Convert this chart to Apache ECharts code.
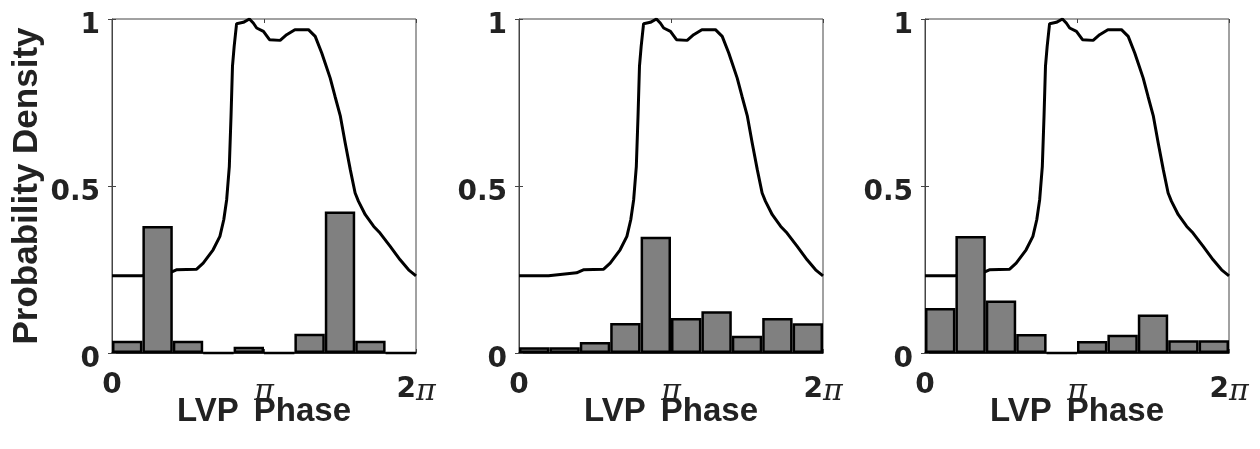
<!DOCTYPE html>
<html>
<head>
<meta charset="utf-8">
<script src="https://cdn.jsdelivr.net/npm/echarts@6/dist/echarts.min.js"></script>
<style>
html,body{margin:0;padding:0;background:#fff;}
#chart{width:1260px;height:449px;}
</style>
</head>
<body>
<div id="chart"></div>
<script>
// Histogram bins (10 equal bins over 0..2π)
var binLabels = ['1','2','3','4','5','6','7','8','9','10'];
// Probability per bin, one array per panel
var panel1Bars = [0.037, 0.380, 0.037, 0, 0.019, 0, 0.058, 0.424, 0.037, 0];
var panel2Bars = [0.017, 0.017, 0.033, 0.090, 0.348, 0.105, 0.125, 0.052, 0.105, 0.089];
var panel3Bars = [0.135, 0.350, 0.157, 0.057, 0, 0.036, 0.055, 0.115, 0.038, 0.038];
// Reference density curve (same in all panels): phase in radians, density
var phaseX = [0, 0.61, 1.19, 1.33, 1.75, 1.885, 2.09, 2.23, 2.31, 2.37, 2.425, 2.46, 2.49, 2.525, 2.575,
  2.715, 2.84, 2.92, 2.99, 3.13, 3.255, 3.475, 3.61, 3.78, 4.06, 4.2, 4.335, 4.405, 4.51, 4.61, 4.72,
  4.82, 4.925, 5.025, 5.095, 5.235, 5.41, 5.54, 5.75, 5.955, 6.13, 6.2832];
var density = [0.231, 0.231, 0.240, 0.249, 0.251, 0.269, 0.309, 0.349, 0.399, 0.459, 0.559, 0.709, 0.858, 0.918, 0.986,
  0.990, 1.000, 0.988, 0.973, 0.963, 0.938, 0.936, 0.953, 0.968, 0.968, 0.948, 0.898, 0.868, 0.823, 0.768, 0.709,
  0.629, 0.549, 0.479, 0.454, 0.414, 0.379, 0.359, 0.319, 0.279, 0.249, 0.231];
var yTicks = ['0', '0.5', '1'];
var xTickNames = ['0', 'π', '2π'];

var panels = [panel1Bars, panel2Bars, panel3Bars];
var lefts = [112, 519, 925];
var TWO_PI = 2 * Math.PI;
var txt = '#222';
var font = 'DejaVu Sans';
var nameFont = 'Liberation Sans';

var curve = phaseX.map(function (x, i) { return [x, density[i]]; });

var option = {
  backgroundColor: '#fff',
  animation: false,
  grid: [], xAxis: [], yAxis: [], series: []
};

panels.forEach(function (bars, p) {
  option.grid.push({
    left: lefts[p], top: 19, width: 304, height: 334,
    show: true, borderColor: '#444', borderWidth: 1, backgroundColor: 'transparent'
  });
  var base = option.xAxis.length;
  // bottom value axis with labels
  option.xAxis.push({
    type: 'value', gridIndex: p, min: 0, max: TWO_PI, interval: Math.PI,
    name: 'LVP {w|Phase}', nameLocation: 'middle', nameGap: 42, nameMoveOverlap: false,
    nameTextStyle: {
      fontFamily: nameFont, fontWeight: 'bold', fontSize: 33, color: txt,
      rich: { w: { fontFamily: nameFont, fontWeight: 'bold', fontSize: 33, color: txt, padding: [0, 0, 0, 6] } }
    },
    axisLine: { show: true, lineStyle: { color: '#000', width: 1.5 } },
    axisTick: { show: true, inside: true, length: 4, lineStyle: { color: '#444', width: 1 } },
    splitLine: { show: false },
    axisLabel: {
      margin: 19,
      formatter: function (v) {
        var k = Math.round(v / Math.PI);
        if (k === 0) return '{b|' + xTickNames[0] + '}';
        if (k === 1) return '{p|π}';
        return '{b|2}{p|π}';
      },
      rich: {
        b: { fontFamily: font, fontWeight: 'bold', fontSize: 28, color: txt },
        p: { fontFamily: 'DejaVu Serif', fontStyle: 'italic', fontSize: 30, color: txt, padding: [5, 0, 0, 0] }
      }
    }
  });
  // hidden category axis for histogram bins
  option.xAxis.push({
    type: 'category', gridIndex: p, data: binLabels, boundaryGap: true, show: false
  });
  // top mirror axis for ticks
  option.xAxis.push({
    type: 'value', gridIndex: p, position: 'top', min: 0, max: TWO_PI, interval: Math.PI,
    axisLine: { show: false }, axisLabel: { show: false }, splitLine: { show: false },
    axisTick: { show: true, inside: true, length: 4, lineStyle: { color: '#444', width: 1 } }
  });
  var ybase = option.yAxis.length;
  option.yAxis.push({
    type: 'value', gridIndex: p, min: 0, max: 1, interval: 0.5,
    name: p === 0 ? 'Probability Density' : '', nameLocation: 'middle', nameGap: 67, nameMoveOverlap: false,
    nameTextStyle: { fontFamily: nameFont, fontWeight: 'bold', fontSize: 35, color: txt },
    axisLine: { show: true, lineStyle: { color: '#444', width: 1 } },
    axisTick: { show: true, inside: true, length: 4, lineStyle: { color: '#444', width: 1 } },
    splitLine: { show: false },
    axisLabel: {
      margin: 12,
      formatter: function (v) { return '{y|' + yTicks[Math.round(v * 2)] + '}'; },
      rich: {
        y: { fontFamily: font, fontWeight: 'bold', fontSize: 28, color: txt, padding: [14, 0, 0, 0] }
      }
    }
  });
  option.yAxis.push({
    type: 'value', gridIndex: p, position: 'right', min: 0, max: 1, interval: 0.5,
    axisLine: { show: false }, axisLabel: { show: false }, splitLine: { show: false },
    axisTick: { show: true, inside: true, length: 4, lineStyle: { color: '#444', width: 1 } }
  });
  option.series.push({
    type: 'line', xAxisIndex: base, yAxisIndex: ybase, data: curve,
    showSymbol: false, symbol: 'none', z: 2,
    lineStyle: { color: '#000', width: 3 }
  });
  option.series.push({
    type: 'bar', xAxisIndex: base + 1, yAxisIndex: ybase, data: bars,
    barCategoryGap: '0%', barGap: '0%', z: 3,
    itemStyle: { color: '#808080', borderColor: '#000', borderWidth: 2.5 }
  });
});

var chart = echarts.init(document.getElementById('chart'), null, { renderer: 'canvas' });
chart.setOption(option);
</script>
</body>
</html>
